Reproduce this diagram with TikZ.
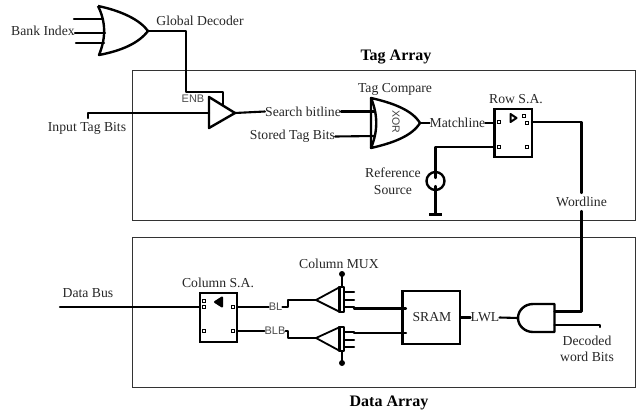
\documentclass[tikz,border=0pt]{standalone}
\usepackage{fontspec}
\setmainfont{Liberation Serif}
\setsansfont{Liberation Sans}
\begin{document}
\begin{tikzpicture}[x=1pt,y=-1pt,
  wire/.style={line width=2.1pt,line cap=round,line join=round},
  gate/.style={line width=2.4pt,line join=round},
  frame/.style={draw=black!80,line width=0.9pt},
  lbl/.style={inner sep=0pt,yshift=-1pt,font=\fontsize{13.7}{15}\selectfont,text=black!85},
  slbl/.style={inner sep=0pt,font=\sffamily\fontsize{11}{12}\selectfont,text=black!70},
  title/.style={inner sep=0pt,yshift=-2pt,font=\bfseries\fontsize{16}{18}\selectfont},
  pin/.style={draw,line width=0.6pt,fill=white,minimum size=3pt,inner sep=0pt},
  sabox/.style={draw,line width=2.4pt,inner sep=0pt,rectangle}]
\useasboundingbox (0,0) rectangle (636,409);
\draw[frame] (132,70) rectangle (635.3,220);
\draw[frame] (132,237.5) rectangle (635.3,387);
% labels
\node[lbl] (bank) at (43,30) {Bank Index};
\node[lbl] (gdec) at (200,20) {Global Decoder};
\node[title] (tagt) at (396,55) {Tag Array};
\node[title] (datat) at (389,401) {Data Array};
\node[lbl] (inp) at (87,127) {Input Tag Bits};
\node[slbl] (enb) at (193,99) {ENB};
\node[lbl] (sbl) at (303,110.5) {Search bitline};
\node[lbl] (stb) at (292.5,135.5) {Stored Tag Bits};
\node[lbl] (tcmp) at (395,88) {Tag Compare};
\node[lbl] (mline) at (457.5,122) {Matchline};
\node[lbl] (rowl) at (516,98) {Row S.A.};
\node[lbl,align=center] (refs) at (393,180) {Reference\\[1.5pt]Source};
\node[lbl] (wl) at (581.5,201) {Wordline};
\node[lbl] (dbus) at (88,292) {Data Bus};
\node[lbl] (csal) at (218,282) {Column S.A.};
\node[lbl] (cmux) at (339,263) {Column MUX};
\node[slbl] (bl) at (275.5,307) {BL};
\node[slbl] (blb) at (275,331) {BLB};
\node[lbl] (sraml) at (432,316.5) {SRAM};
\node[lbl] (lwl) at (485,316.5) {LWL};
\node[lbl,align=center] (dwb) at (587,348) {Decoded\\[1pt]word Bits};
\node[rotate=-90,inner sep=0pt,font=\sffamily\fontsize{10.5}{11}\selectfont,text=black!75] (xorl) at (396,122) {XOR};
% Bank OR gate
\coordinate (orT) at (98,6); \coordinate (orB) at (99,55); \coordinate (orO) at (148,31);
\draw[gate] (orT) .. controls (122,11) and (140,20) .. (orO) .. controls (138,44) and (120,51) .. (orB) .. controls (106,38) and (106,22) .. (orT);
\coordinate (bi1) at (74,19); \coordinate (bi1e) at (103,19);
\coordinate (bi2) at (75,33); \coordinate (bi2e) at (105,33);
\coordinate (bi3) at (76,43); \coordinate (bi3e) at (104,43);
\draw[wire] (bi1) -- (bi1e); \draw[wire] (bi2) -- (bi2e); \draw[wire] (bi3) -- (bi3e);
% Tristate
\coordinate (tA) at (209,97); \coordinate (tB) at (209,128); \coordinate (tO) at (235,113);
\draw[gate] (tA) -- (tO) -- (tB) -- cycle;
\coordinate (tI) at (209,113);
\coordinate (tE) at (223,105);
\coordinate (inS) at (88,118);
\draw[wire] (orO) -| (186,92) -| (tE);
\draw[wire] (inS) |- (tI);
\draw[wire] (tO) -- (sbl.west);
% XOR gate
\coordinate (xT) at (371,98); \coordinate (xB) at (371,148); \coordinate (xO) at (420,123);
\draw[gate] (xT) .. controls (393,103) and (412,110) .. (xO) .. controls (412,136) and (393,143) .. (xB) -- cycle;
\draw[gate] (xT) .. controls (378,115) and (378,131) .. (xB);
\coordinate (x1) at (375,111.5); \coordinate (x2) at (375,136);
\draw[wire] (sbl.east) -- (x1);
\draw[wire] (stb.east) -- (x2);
\draw[wire] (xO) -- (mline.west);
% Row SA
\node[sabox,minimum width=37.5pt,minimum height=48pt] (rsa) at (513.2,133) {};
\coordinate (rI1) at (494.5,123); \coordinate (rI2) at (494.5,147); \coordinate (rO) at (532,122);
\draw[wire] (mline.east) -- (rI1);
\node[pin] (rp1) at (498.5,122) {}; \node[pin] (rp2) at (527,122.5) {};
\node[pin] (rp3) at (498.5,147) {}; \node[pin] (rp4) at (527,147) {};
\node[pin] (rp5) at (524,116) {};
\coordinate (rt1) at (510.5,114); \coordinate (rt2) at (510.5,122); \coordinate (rt3) at (516.5,118);
\draw[line width=2pt,line join=round] (rt1) -- (rt3) -- (rt2) -- cycle;
% Reference source
\node[circle,draw,line width=2.4pt,minimum size=18pt,inner sep=0pt] (src) at (435.5,181) {};
\coordinate (srcT) at (435.5,178); \coordinate (srcB) at (435.5,186);
\coordinate (gnd) at (435.5,213);
\coordinate (gndL) at (429,214); \coordinate (gndR) at (442,214);
\draw[wire] (rI2) -| (srcT);
\draw[wire] (srcB) -- (gnd);
\draw[line width=3pt] (gndL) -- (gndR);
% Wordline
\coordinate (agT) at (554.5,311.5);
\coordinate (agL) at (554.5,325);
\coordinate (wlA) at (581.5,193);
\coordinate (wlB) at (581.5,211);
\draw[wire] (rO) -| (wlA);
\draw[wire] (wlB) |- (agT);
% AND gate
\coordinate (agI) at (518,318);
\draw[gate] (533,304) -- (554.5,304) -- (554.5,332) -- (533,332) .. controls (525,332) and (518,326) .. (agI) .. controls (518,310) and (525,304) .. (533,304) -- cycle;
\coordinate (dwE) at (600,327);
\draw[wire] (agL) -| (dwE);
\draw[wire] (lwl.east) -- (agI);
% SRAM
\node[sabox,minimum width=57.5pt,minimum height=53pt] (sram) at (431.2,317.5) {};
\draw[wire] (sram.east) -- (lwl.west);
% Column S.A.
\node[sabox,minimum width=37.5pt,minimum height=49pt] (csa) at (218.5,317.5) {};
\coordinate (cI) at (200,307); \coordinate (dS) at (60,307);
\coordinate (cO1) at (237,307); \coordinate (cO2) at (237,331);
\draw[wire] (dS) -- (cI);
\node[pin] (cp1) at (203.5,300.5) {}; \node[pin] (cp2) at (203.5,307) {};
\node[pin] (cp3) at (203.5,331) {}; \node[pin] (cp4) at (232.5,307) {};
\node[pin] (cp5) at (232.5,331) {};
\coordinate (ct1) at (222,297.5); \coordinate (ct2) at (222,306.5); \coordinate (ct3) at (215,302);
\draw[line width=2pt,line join=round,fill=black] (ct1) -- (ct3) -- (ct2) -- cycle;
\draw[wire] (cO1) -- (bl.west);
\draw[wire] (cO2) -- (blb.west);
% Column MUX upper
\coordinate (m1T) at (316,300); \coordinate (m1A) at (340,287); \coordinate (m1B) at (340,312);
\coordinate (m1D) at (342,274); \coordinate (m1C) at (342,287);
\draw[line width=1.8pt,line join=round] (m1T) -- (m1A) -- (m1B) -- cycle;
\draw[line width=2.2pt,line join=round] (339,287) rectangle (344,312);
\draw[wire] (bl.east) -- (288,307) -- (288,300) -- (m1T);
\fill (m1D) circle[radius=3pt];
\draw[wire] (m1D) -- (m1C);
\foreach \y/\n in {292/a,300/b,307/c}{\coordinate (m1\n) at (345,\y); \coordinate (m1\n e) at (354,\y); \draw[wire] (m1\n) -- (m1\n e);}
\coordinate (s1) at (406,308.5); \coordinate (m1O) at (354,308.5);
\draw[wire] (m1O) -- (s1);
% Column MUX lower
\coordinate (m2T) at (316,338); \coordinate (m2A) at (340,327); \coordinate (m2B) at (340,351);
\coordinate (m2D) at (342,363); \coordinate (m2C) at (342,351);
\draw[line width=1.8pt,line join=round] (m2T) -- (m2A) -- (m2B) -- cycle;
\draw[line width=2.2pt,line join=round] (339,327) rectangle (344,351);
\draw[wire] (blb.east) -- (288,331) -- (288,338) -- (m2T);
\fill (m2D) circle[radius=3pt];
\draw[wire] (m2D) -- (m2C);
\foreach \y/\n in {332/a,340/b,347/c}{\coordinate (m2\n) at (345,\y); \coordinate (m2\n e) at (354,\y); \draw[wire] (m2\n) -- (m2\n e);}
\coordinate (s2) at (406,333); \coordinate (m2O) at (354,333);
\draw[wire] (m2O) -- (s2);
\end{tikzpicture}
\end{document}
